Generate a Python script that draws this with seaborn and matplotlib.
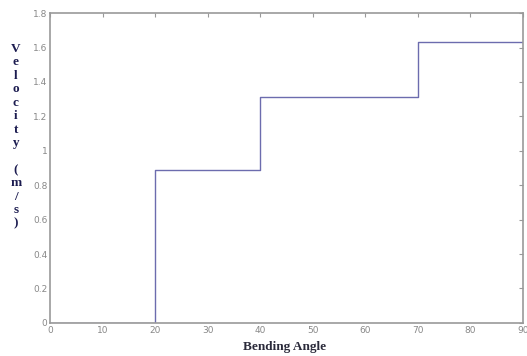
import matplotlib
matplotlib.use("Agg")
import pandas as pd
import seaborn as sns
import matplotlib.pyplot as plt

# Step values
angles = [0, 20, 40, 70, 90]
velocity = [0, 0.89, 1.31, 1.63, 1.63]
x_ticks = [0, 10, 20, 30, 40, 50, 60, 70, 80, 90]
y_ticks = [0, 0.2, 0.4, 0.6, 0.8, 1, 1.2, 1.4, 1.6, 1.8]
y_tick_labels = ["0", "0.2", "0.4", "0.6", "0.8", "1", "1.2", "1.4", "1.6", "1.8"]

df = pd.DataFrame({"angle": angles, "velocity": velocity})

sns.set_style("white")
fig = plt.figure(figsize=(5.27, 3.56), dpi=100)
ax = fig.add_axes([0.095, 0.093, 0.897, 0.87])

sns.lineplot(data=df, x="angle", y="velocity", drawstyle="steps-post",
             color="#6c6cae", linewidth=1.0, ax=ax)

ax.set_xlim(0, 90)
ax.set_ylim(0, 1.8)
ax.set_xticks(x_ticks)
ax.set_yticks(y_ticks)
ax.set_yticklabels(y_tick_labels)
ax.tick_params(direction="in", length=3, width=0.8, colors="#999999",
               labelsize=6.5, labelcolor="#888888", top=True, right=True,
               pad=2)
for s in ax.spines.values():
    s.set_color("#999999")
    s.set_linewidth(1.2)

ax.set_xlabel("")
ax.set_ylabel("")
fig.text(0.54, 0.025, "Bending Angle", ha="center", va="center",
         family="Liberation Serif", fontweight="bold", fontsize=9.5,
         color="#2a2a3a")
fig.text(0.03, 0.355, "V\ne\nl\no\nc\ni\nt\ny\n\n(\nm\n/\ns\n)",
         ha="center", va="bottom", family="Liberation Serif",
         fontweight="bold", fontsize=9.5, linespacing=1.16,
         color="#1c1c50")

fig.savefig("out.png", dpi=100)
